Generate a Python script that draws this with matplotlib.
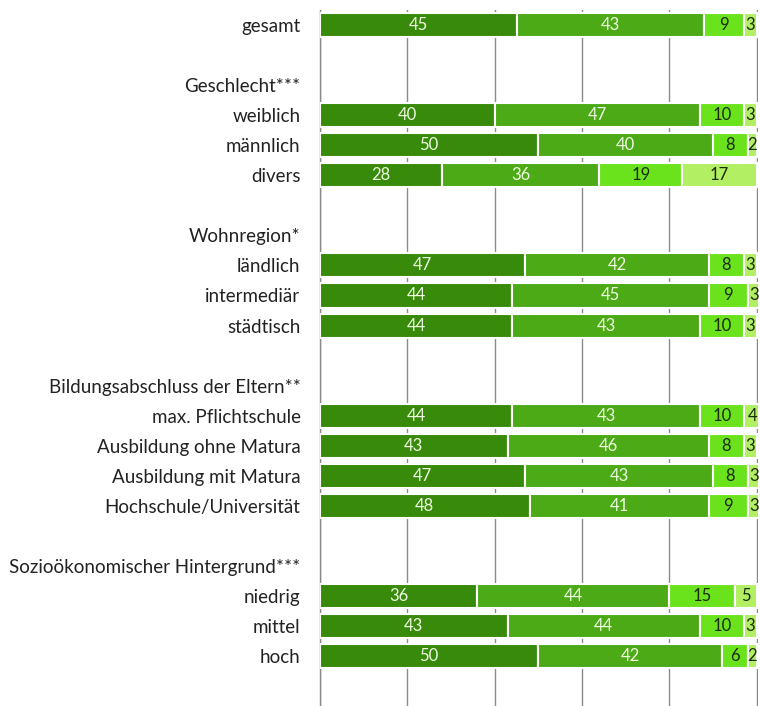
import matplotlib.pyplot as plt
import numpy as np

# row labels (group headers and blanks have no bars)
labels = ["gesamt", "", "Geschlecht***", "weiblich", "männlich", "divers", "",
          "Wohnregion*", "ländlich", "intermediär", "städtisch", "",
          "Bildungsabschluss der Eltern**", "max. Pflichtschule",
          "Ausbildung ohne Matura", "Ausbildung mit Matura",
          "Hochschule/Universität", "",
          "Sozioökonomischer Hintergrund***", "niedrig", "mittel", "hoch"]

# values per category (None = no bar)
s1 = [45, None, None, 40, 50, 28, None, None, 47, 44, 44, None, None, 44, 43, 47, 48, None, None, 36, 43, 50]
s2 = [43, None, None, 47, 40, 36, None, None, 42, 45, 43, None, None, 43, 46, 43, 41, None, None, 44, 44, 42]
s3 = [9, None, None, 10, 8, 19, None, None, 8, 9, 10, None, None, 10, 8, 8, 9, None, None, 15, 10, 6]
s4 = [3, None, None, 3, 2, 17, None, None, 3, 3, 3, None, None, 4, 3, 3, 3, None, None, 5, 3, 2]

colors = ["#388a0a", "#4caa16", "#6ae31c", "#b2ef62"]
text_colors = ["#eefbe0", "#eefbe0", "#1c2a0c", "#1c2a0c"]

plt.rcParams['font.family'] = ['Lato', 'DejaVu Sans']

fig = plt.figure(figsize=(7.6, 7.06), dpi=100)
ax = fig.add_axes([320 / 760, 0.0, 438 / 760, 696 / 706])

y = np.arange(len(labels))
series = [s1, s2, s3, s4]
left = np.zeros(len(labels))
for k, s in enumerate(series):
    vals = np.array([v if v is not None else 0 for v in s], dtype=float)
    mask = np.array([v is not None for v in s])
    ax.barh(y[mask], vals[mask], left=left[mask], height=0.8, color=colors[k],
            edgecolor="white", linewidth=1.5, zorder=3)
    for i in np.where(mask)[0]:
        ax.text(left[i] + vals[i] / 2, y[i], f"{int(vals[i])}", ha="center", va="center",
                fontsize=12, color=text_colors[k], zorder=4)
    left = left + vals

ax.set_xlim(0, 100.3)
ax.set_ylim(21 + 1.66, -0.5)
ax.set_yticks(y)
ax.set_yticklabels(labels, fontsize=13.5, color="#222222")
ax.tick_params(axis="y", length=0, pad=14)
ax.set_xticks([0, 20, 40, 60, 80, 100])
ax.tick_params(axis="x", length=0, labelbottom=False)
ax.grid(axis="x", color="#8a8a8a", linewidth=1.0, zorder=0)
ax.grid(axis="y", visible=False)
for side in ["top", "right", "bottom"]:
    ax.spines[side].set_visible(False)
ax.spines["left"].set_color("#8a8a8a")
ax.spines["left"].set_linewidth(1.0)
ax.set_axisbelow(True)

fig.savefig("out.png", dpi=100)
